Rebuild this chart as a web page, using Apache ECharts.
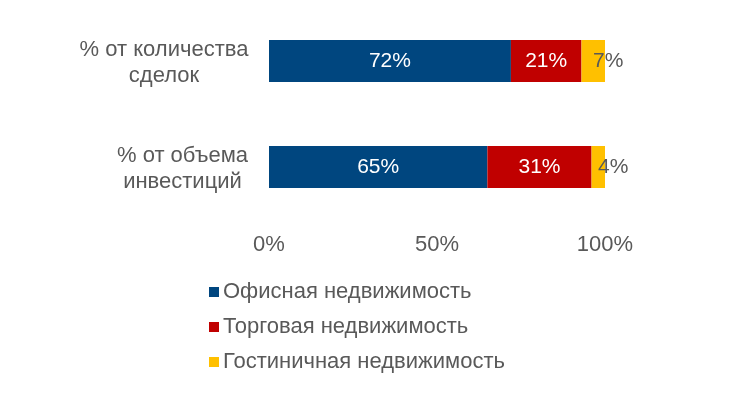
<!DOCTYPE html>
<html><head><meta charset="utf-8">
<script src="https://cdn.jsdelivr.net/npm/echarts@6/dist/echarts.min.js"></script>
<style>html,body{margin:0;padding:0;background:#fff}#c{width:750px;height:403px}</style>
</head><body><div id="c"></div>
<script>
var categories = ['% от количества\nсделок', '% от объема\nинвестиций'];
var seriesNames = ['Офисная недвижимость', 'Торговая недвижимость', 'Гостиничная недвижимость'];
var office = [72, 65];
var retail = [21, 31];
var hotel = [7, 4];
var xTicks = [0, 50, 100];

var FONT = 'Liberation Sans, Arial, sans-serif';
var GREY = '#595959';
var chart = echarts.init(document.getElementById('c'));
function mk(name, data, color, labelColor, offset) {
  return {
    name: name, type: 'bar', stack: 'total', barWidth: 42, data: data,
    itemStyle: { color: color },
    label: { show: true, position: 'inside', offset: offset || [0, 0], formatter: '{c}%',
      color: labelColor, fontSize: 21, fontFamily: FONT }
  };
}
chart.setOption({
  animation: false,
  grid: { left: 269, right: 145, top: 8, height: 212 },
  legend: {
    orient: 'vertical', left: 204, top: 276, itemWidth: 10, itemHeight: 10, itemGap: 13,
    icon: 'rect', data: seriesNames,
    textStyle: { fontSize: 22, color: GREY, fontFamily: FONT, padding: [0, 0, 0, -1] }
  },
  xAxis: {
    type: 'value', min: xTicks[0], max: xTicks[xTicks.length - 1], interval: 50,
    axisLine: { show: false }, axisTick: { show: false }, splitLine: { show: false },
    axisLabel: { formatter: '{value}%', fontSize: 22, color: GREY, fontFamily: FONT, margin: 14 }
  },
  yAxis: {
    type: 'category', inverse: true, data: categories,
    axisLine: { show: false }, axisTick: { show: false },
    axisLabel: {
      align: 'right', margin: 21, color: GREY, fontSize: 22, fontFamily: FONT, padding: [4, 0, 0, 0],
      formatter: function (v, i) {
        var s = i === 0 ? 'a' : 'b';
        return v.split('\n').map(function (l) { return '{' + s + '|' + l + '}'; }).join('\n');
      },
      rich: {
        a: { width: 168, align: 'center', fontSize: 22, lineHeight: 26, color: GREY, fontFamily: FONT },
        b: { width: 131, align: 'center', fontSize: 22, lineHeight: 26, color: GREY, fontFamily: FONT }
      }
    }
  },
  series: [
    mk(seriesNames[0], office, '#00467F', '#fff'),
    mk(seriesNames[1], retail, '#C00000', '#fff'),
    mk(seriesNames[2], hotel, '#FFC000', GREY, [15, 0])
  ]
});
</script></body></html>
